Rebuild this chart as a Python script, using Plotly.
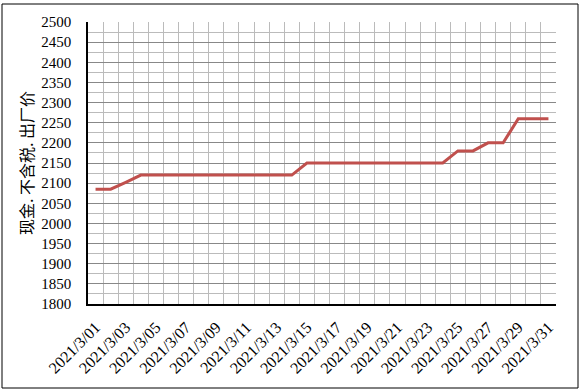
import plotly.graph_objects as go

dates = [f"2021/3/{d:02d}" for d in range(1, 32)]
prices = [2085, 2085, 2102, 2120, 2120, 2120, 2120, 2120, 2120, 2120,
          2120, 2120, 2120, 2120, 2150, 2150, 2150, 2150, 2150, 2150,
          2150, 2150, 2150, 2150, 2180, 2180, 2200, 2200, 2260, 2260, 2260]
y_title = "现金. 不含税. 出厂价"

W, H = 581, 392
L, R, T, B = 88, 556, 22, 304

idx = list(range(len(dates)))
fig = go.Figure()
fig.add_trace(go.Scatter(x=idx, y=prices, mode="lines",
                         line=dict(color="#C0504D", width=3), showlegend=False))

serif = "Liberation Serif, Times New Roman, serif"
fig.update_layout(
    width=W, height=H,
    margin=dict(l=L, r=W - R, t=T, b=H - B),
    paper_bgcolor="white", plot_bgcolor="white",
    font=dict(family=serif, color="black"),
)
fig.update_xaxes(
    range=[-0.5, len(dates) - 0.5],
    tickmode="array", tickvals=idx[::2], ticktext=dates[::2],
    tickangle=-45, tickfont=dict(size=16, family=serif),
    showgrid=False, zeroline=False,
    showline=True, linecolor="black", linewidth=1.5,
    ticks="", ticklabelstandoff=6,
    minor=dict(tickmode="array", tickvals=[i + 0.5 for i in range(len(dates) - 1)],
               showgrid=True, gridcolor="#BBBBBB", gridwidth=1),
)
fig.update_yaxes(
    range=[1800, 2500], dtick=50, tick0=1800,
    tickfont=dict(size=15, family=serif),
    showgrid=True, gridcolor="#888888", gridwidth=1,
    zeroline=False, showline=True, linecolor="black", linewidth=1.5,
    ticks="", ticklabelstandoff=12,
    minor=dict(dtick=25, tick0=1800, showgrid=True, gridcolor="#BBBBBB", gridwidth=1),
    title=dict(text=y_title, font=dict(size=16, family="Noto Sans CJK SC"), standoff=4),
)

def px(x): return (x - L) / (R - L)
def py(y): return (B - y) / (B - T)

fig.add_shape(type="rect", xref="paper", yref="paper",
              x0=px(2), x1=px(578), y0=py(388), y1=py(4),
              line=dict(color="black", width=1), layer="below")

fig.write_html("out.html")
